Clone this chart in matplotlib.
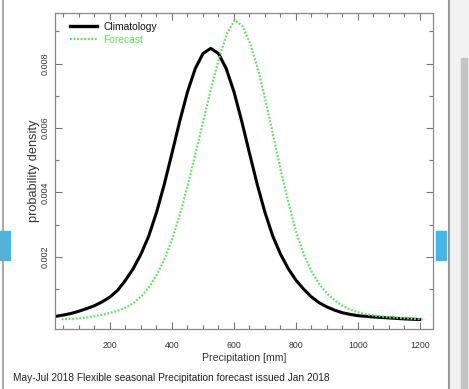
import matplotlib
matplotlib.use("Agg")
import matplotlib.pyplot as plt
from matplotlib.ticker import MultipleLocator, FixedLocator
from matplotlib.patches import Rectangle
from matplotlib.lines import Line2D

# Data (precipitation in mm, probability density)
clim_x = [5, 15, 25, 50, 75, 100, 125, 150, 175, 200, 225, 250, 275, 300, 325,
          350, 375, 400, 425, 450, 475, 500, 525, 550, 575, 600, 625, 650, 675,
          700, 725, 750, 775, 800, 825, 850, 875, 900, 925, 950, 975, 1000,
          1050, 1100, 1150, 1200]
clim_y = [0.00008, 0.00013, 0.00016, 0.0002, 0.00025, 0.00032, 0.0004, 0.00049,
          0.00061, 0.00076, 0.00097, 0.00128, 0.00164, 0.00209, 0.00265, 0.00338,
          0.00425, 0.00522, 0.00621, 0.00712, 0.00784, 0.00831, 0.00847, 0.00831,
          0.00784, 0.00712, 0.00621, 0.00522, 0.00425, 0.00338, 0.00265, 0.00209,
          0.00164, 0.00128, 0.001, 0.00076, 0.00058, 0.00045, 0.00035, 0.00027,
          0.00022, 0.00018, 0.00014, 0.00011, 0.00008, 0.00006]

fc_x = [44, 78, 103, 128, 153, 178, 203, 228, 253, 278, 303, 328, 353, 378, 403,
        428, 453, 478, 503, 528, 553, 578, 603, 628, 653, 678, 703, 728, 753,
        778, 803, 828, 853, 878, 903, 928, 953, 978, 1003, 1028, 1053, 1103,
        1153, 1216]
fc_y = [0.00007, 0.00008, 0.0001, 0.00013, 0.00017, 0.00021, 0.00027, 0.00034,
        0.00044, 0.00059, 0.0008, 0.00109, 0.00148, 0.00198, 0.00262, 0.0034,
        0.0043, 0.0053, 0.0063, 0.0073, 0.0082, 0.00895, 0.00935, 0.00915,
        0.0086, 0.0078, 0.0068, 0.0057, 0.0046, 0.0036, 0.0027, 0.00202,
        0.0015, 0.00112, 0.00084, 0.00063, 0.00047, 0.00036, 0.00028, 0.00022,
        0.00018, 0.00013, 0.0001, 0.00006]

x_ticks = [200, 400, 600, 800, 1000, 1200]
y_ticks = [0.002, 0.004, 0.006, 0.008]
series_names = ["Climatology", "Forecast"]
caption = "May-Jul 2018 Flexible seasonal Precipitation forecast issued Jan 2018"

W, H = 469, 389
fig = plt.figure(figsize=(W / 100, H / 100), dpi=100)
fig.patch.set_facecolor("white")
FONT = ["Liberation Sans", "DejaVu Sans"]
TXT = "#333333"
GREEN = "#55e855"
DOTS = (0, (0.8, 0.8))

def px(x0, y0, w, h):
    return [x0 / W, 1 - (y0 + h) / H, w / W, h / H]

ax = fig.add_axes(px(55, 13, 378, 316))
ax.plot(clim_x, clim_y, color="black", lw=2.2, solid_joinstyle="round",
        solid_capstyle="round")
ax.plot(fc_x, fc_y, color=GREEN, lw=1.6, linestyle=DOTS)
ax.set_xlim(22.6, 1242)
ax.set_ylim(-0.000233, 0.009566)

ax.xaxis.set_major_locator(FixedLocator(x_ticks))
ax.xaxis.set_minor_locator(MultipleLocator(50))
ax.yaxis.set_major_locator(FixedLocator(y_ticks))
ax.yaxis.set_minor_locator(FixedLocator([0.001, 0.003, 0.005, 0.007, 0.009]))
ax.set_xticklabels([str(v) for v in x_ticks], fontfamily=FONT, fontsize=6.3, color=TXT)
ax.set_yticklabels(["%.3f" % v for v in y_ticks], fontfamily=FONT, fontsize=6.5,
                   color=TXT, rotation=90, va="center")
ax.tick_params(which="both", direction="in", top=True, right=True, color="#777777",
               width=0.8)
ax.tick_params(which="major", length=5)
ax.tick_params(which="minor", length=3)
ax.tick_params(axis="x", which="major", pad=9)
ax.tick_params(axis="y", which="major", pad=4)
for s in ax.spines.values():
    s.set_color("#888888")
    s.set_linewidth(0.9)

ax.set_xlabel("Precipitation [mm]", fontfamily=FONT, fontsize=7.6, color=TXT, labelpad=1.5)
ax.set_ylabel("probability density", fontfamily=FONT, fontsize=9.2, color=TXT, labelpad=0)

handles = [Line2D([], [], color="black", lw=2.4),
           Line2D([], [], color=GREEN, lw=1.6, linestyle=DOTS)]
leg = fig.legend(handles, series_names, loc="upper left", frameon=False,
                 bbox_to_anchor=(70 / W, 1 - 22 / H), borderpad=0, borderaxespad=0,
                 prop={"family": FONT, "size": 7.4}, handlelength=2.6,
                 handletextpad=0.65, labelspacing=0.28)
for t, c in zip(leg.get_texts(), ["#111111", GREEN]):
    t.set_color(c)

fig.text(13 / W, 1 - 378 / H, caption, fontfamily=FONT, fontsize=7.3, color="#222222",
         va="center", ha="left")

# page decorations
fig.add_artist(Line2D([3 / W, 3 / W], [0, 1], color="#9a9a9a", lw=1.2,
                      transform=fig.transFigure))
fig.add_artist(Line2D([448.5 / W, 448.5 / W], [0, 1], color="#9a9a9a", lw=1.5,
                      transform=fig.transFigure))
fig.add_artist(Rectangle((450 / W, 0), 19 / W, 1, transform=fig.transFigure,
                         color="#f2f2f2", zorder=0))
fig.add_artist(Rectangle((460.5 / W, 0), 6 / W, (389 - 58) / H,
                         transform=fig.transFigure, color="#c4c4c4"))
fig.add_artist(Rectangle((0, 1 - 260 / H), 10 / W, 29 / H, transform=fig.transFigure,
                         color="#3fb8ec"))
fig.add_artist(Rectangle((436 / W, 1 - 260 / H), 10 / W, 29 / H,
                         transform=fig.transFigure, color="#3fb8ec"))

fig.savefig("out.png", dpi=100)
